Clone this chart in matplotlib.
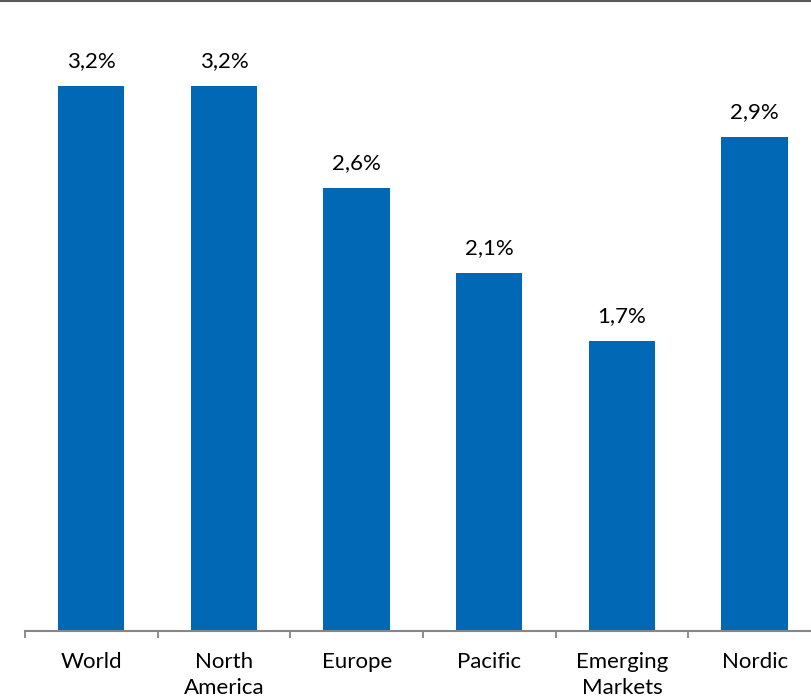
import matplotlib.pyplot as plt
from matplotlib.lines import Line2D

# Data
categories = ["World", "North\nAmerica", "Europe", "Pacific", "Emerging\nMarkets", "Nordic"]
values = [3.2, 3.2, 2.6, 2.1, 1.7, 2.9]
value_labels = ["3,2%", "3,2%", "2,6%", "2,1%", "1,7%", "2,9%"]

bar_color = "#0068B5"
axis_color = "#868686"

plt.rcParams['font.family'] = ['Lato', 'DejaVu Sans']

fig = plt.figure(figsize=(8.12, 7.0), dpi=100)
# axes spans past the right edge, like the cropped original
ax = fig.add_axes([25 / 812, 1 - 631 / 700, 796 / 812, 631 / 700])

x = range(len(categories))
bars = ax.bar(x, values, width=0.5, color=bar_color)
ax.set_xlim(-0.5, len(categories) - 0.5)
ax.set_ylim(0, 631 / 170.3)

for b, lab in zip(bars, value_labels):
    ax.annotate(lab, (b.get_x() + b.get_width() / 2, b.get_height()),
                xytext=(0, 13.7), textcoords="offset points",
                ha="center", va="baseline", fontsize=16, color="black")

# category ticks sit between bars
ax.set_xticks([i - 0.5 for i in range(len(categories) + 1)])
ax.set_xticklabels([])
ax.set_xticks(list(x), minor=True)
ax.set_xticklabels(categories, minor=True, fontsize=16, linespacing=1.37)
ax.tick_params(axis="x", which="major", length=5, width=1.3, color=axis_color, direction="out")
ax.tick_params(axis="x", which="minor", length=0, pad=15)

ax.set_yticks([])
for side in ["top", "right", "left"]:
    ax.spines[side].set_visible(False)
ax.spines["bottom"].set_color(axis_color)
ax.spines["bottom"].set_linewidth(1.5)

# thin dark border at the top of the image
fig.add_artist(Line2D([0, 1], [0.999, 0.999], transform=fig.transFigure,
                      color="#595959", linewidth=1.5))

fig.savefig("out.png", dpi=100)
